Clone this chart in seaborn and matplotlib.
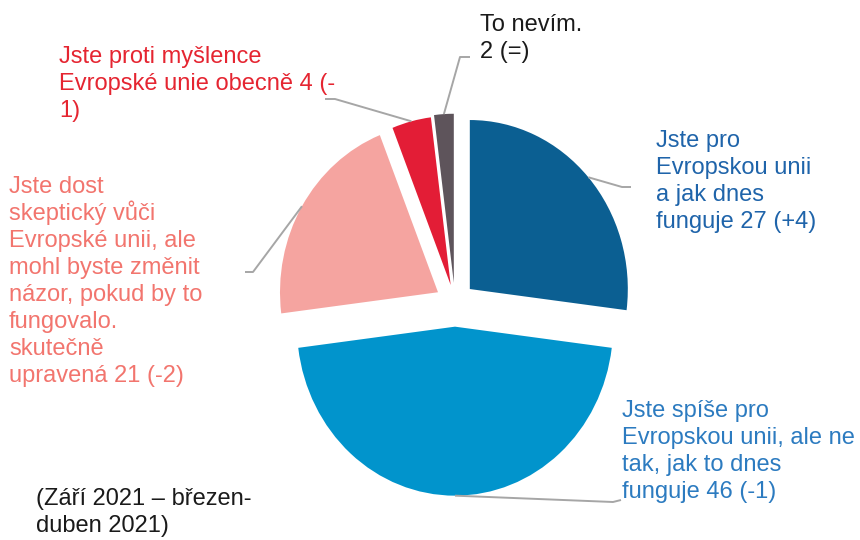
import matplotlib
matplotlib.use("Agg")
import matplotlib.pyplot as plt
import seaborn as sns
import numpy as np

# ---- data ----
categories = [
    "Jste pro Evropskou unii a jak dnes funguje",
    "Jste spíše pro Evropskou unii, ale ne tak, jak to dnes funguje",
    "Jste dost skeptický vůči Evropské unii, ale mohl byste změnit názor, pokud by to fungovalo. skutečně upravená",
    "Jste proti myšlence Evropské unie obecně",
    "To nevím.",
]
values = [27, 46, 21, 4, 2]
changes = ["(+4)", "(-1)", "(-2)", "(-1)", "(=)"]
label_lines = [
    ["Jste pro", "Evropskou unii", "a jak dnes", "funguje 27 (+4)"],
    ["Jste spíše pro", "Evropskou unii, ale ne", "tak, jak to dnes", "funguje 46 (-1)"],
    ["Jste dost", "skeptický vůči", "Evropské unii, ale", "mohl byste změnit",
     "názor, pokud by to", "fungovalo.", "skutečně", "upravená 21 (-2)"],
    ["Jste proti myšlence", "Evropské unie obecně 4 (-", "1)"],
    ["To nevím.", "2 (=)"],
]
footnote_lines = ["(Září 2021 – březen-", "duben 2021)"]

wedge_colors = ["#0B5F92", "#0194CC", "#F5A4A0", "#E31D36", "#5E545B"]
text_colors = ["#1F64AA", "#2C7BC0", "#F2756E", "#E52531", "#1A1A1A"]
explode = [0.125, 0.14, 0.125, 0.11, 0.12]

# ---- layout (pixels, y from top) ----
W, H = 860, 540
CX, CY = 455, 303
RX, RY = 158, 169

label_pos = [(656, 146.7), (622, 416.7), (9, 192.7), (59, 63.3), (480, 30.7)]
elbows = [
    [(622, 187), (631, 187)],
    [(613, 502), (621, 500)],
    [(253, 272), (245, 272)],
    [(335, 99), (325, 99)],
    [(460, 57), (470, 57)],
]
foot_pos = (36, 505)
LINE_STEP = 27
FS = 17

sns.set_theme(style="white")
plt.rcParams['font.family'] = ['Liberation Sans', 'DejaVu Sans']

fig = plt.figure(figsize=(W / 100, H / 100), dpi=100)
ax = fig.add_axes([0, 0, 1, 1])

wedges, _ = ax.pie(values, colors=wedge_colors, startangle=90, counterclock=False,
                   explode=explode, radius=1, wedgeprops=dict(linewidth=0))
ax.set_aspect('auto')
ax.set_xlim(-CX / RX, (W - CX) / RX)
ax.set_ylim(-(H - CY) / RY, CY / RY)
ax.axis('off')


def P(x, y):
    return ((x - CX) / RX, (CY - y) / RY)


for i, w in enumerate(wedges):
    mid = np.deg2rad((w.theta1 + w.theta2) / 2)
    cx, cy = w.center
    sx, sy = cx + w.r * np.cos(mid), cy + w.r * np.sin(mid)
    pts = [(sx, sy)] + [P(*e) for e in elbows[i]]
    xs, ys = zip(*pts)
    ax.plot(xs, ys, color="#A6A6A6", lw=1.4, solid_capstyle='butt', zorder=1)

    lx, ly = label_pos[i]
    for j, line in enumerate(label_lines[i]):
        ax.text(*P(lx, ly + j * LINE_STEP), line, color=text_colors[i], fontsize=FS,
                ha='left', va='baseline')

fx, fy = foot_pos
for j, line in enumerate(footnote_lines):
    ax.text(*P(fx, fy + j * LINE_STEP), line, color="#1A1A1A", fontsize=FS,
            ha='left', va='baseline')

fig.savefig("out.png", dpi=100)
